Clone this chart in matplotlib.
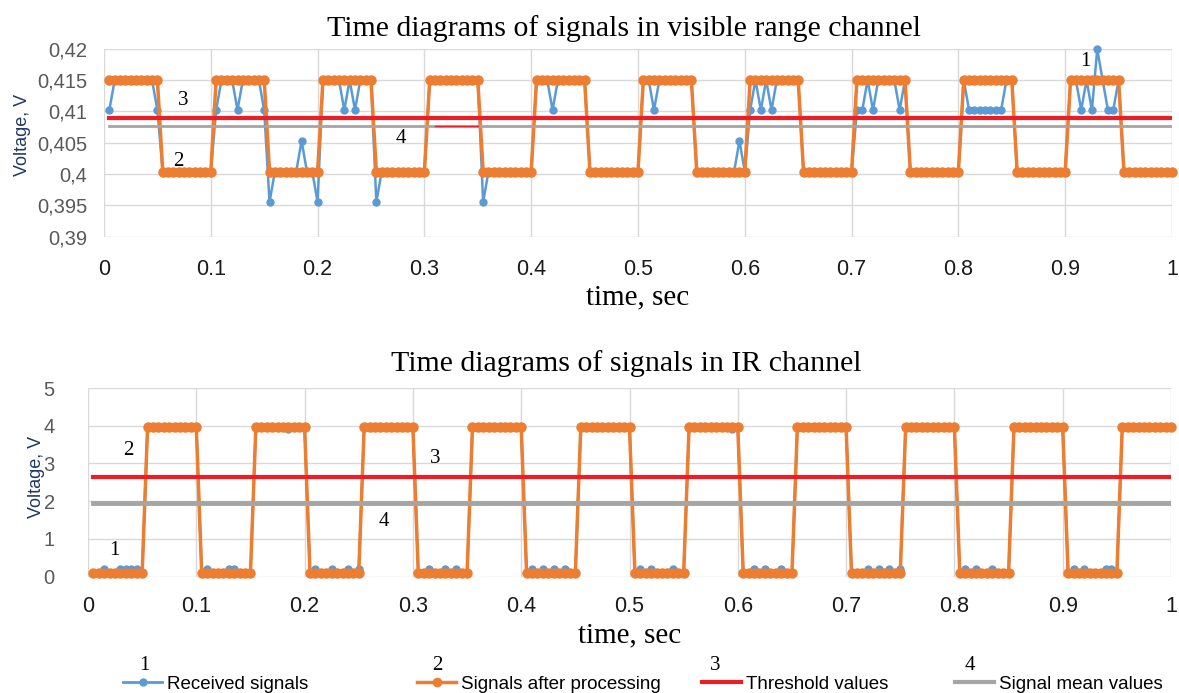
import numpy as np
import matplotlib
matplotlib.use("Agg")
import matplotlib.pyplot as plt
from matplotlib.lines import Line2D

# ---------------- data ----------------
sample_step = 0.005          # s, one dot every 5 ms
samples_per_segment = 10     # 10 dots per half-period plateau

# visible range channel: processed level of each 50 ms plateau
vis_segment_levels = [0.4150, 0.4004] * 10
# received signal = processed signal except at these samples
vis_received_deviations = {
    0.005: 0.4102, 0.050: 0.4102,
    0.105: 0.4102, 0.125: 0.4102, 0.150: 0.4102,
    0.155: 0.3955, 0.185: 0.4053, 0.200: 0.3955,
    0.225: 0.4102, 0.235: 0.4102,
    0.255: 0.3955,
    0.355: 0.3955,
    0.420: 0.4102,
    0.515: 0.4102,
    0.595: 0.4053,
    0.605: 0.4102, 0.615: 0.4102, 0.625: 0.4102,
    0.705: 0.4102, 0.710: 0.4102, 0.720: 0.4102, 0.745: 0.4102,
    0.810: 0.4102, 0.815: 0.4102, 0.820: 0.4102, 0.825: 0.4102,
    0.830: 0.4102, 0.835: 0.4102, 0.840: 0.4102,
    0.915: 0.4102, 0.925: 0.4102, 0.930: 0.4199, 0.940: 0.4102, 0.945: 0.4102,
}
vis_threshold = 0.4089
vis_mean = 0.4077
vis_artifact_t = [0.31, 0.35]   # short red stroke on the mean line

# IR channel
ir_segment_levels = [0.08, 3.96] * 10
ir_received_deviations = {
    0.015: 0.20, 0.030: 0.20, 0.035: 0.20, 0.040: 0.20, 0.045: 0.20,
    0.110: 0.20, 0.130: 0.20, 0.135: 0.20,
    0.185: 3.90,
    0.210: 0.20, 0.225: 0.20, 0.240: 0.20, 0.250: 0.20,
    0.315: 0.20, 0.330: 0.20, 0.340: 0.20,
    0.410: 0.20, 0.420: 0.20, 0.430: 0.20, 0.440: 0.20,
    0.510: 0.20, 0.520: 0.20, 0.540: 0.20,
    0.595: 3.90,
    0.615: 0.20, 0.625: 0.20, 0.640: 0.20,
    0.720: 0.20, 0.730: 0.20, 0.740: 0.20, 0.750: 0.20,
    0.810: 0.20, 0.820: 0.20, 0.835: 0.20,
    0.910: 0.20, 0.920: 0.20, 0.940: 0.20, 0.945: 0.20,
}
ir_threshold = 2.63
ir_mean = 1.94

x_ticks = [0, 0.1, 0.2, 0.3, 0.4, 0.5, 0.6, 0.7, 0.8, 0.9, 1]
x_tick_labels = ["0", "0.1", "0.2", "0.3", "0.4", "0.5", "0.6", "0.7", "0.8", "0.9", "1"]
vis_y_ticks = [0.39, 0.395, 0.40, 0.405, 0.41, 0.415, 0.42]
vis_y_labels = ["0,39", "0,395", "0,4", "0,405", "0,41", "0,415", "0,42"]
ir_y_ticks = [0, 1, 2, 3, 4, 5]
ir_y_labels = ["0", "1", "2", "3", "4", "5"]

legend_labels = ["Received signals", "Signals after processing",
                 "Threshold values", "Signal mean values"]

# ---------------- build series ----------------
n = samples_per_segment * len(vis_segment_levels)
t = np.round(np.arange(1, n + 1) * sample_step, 3)

def build(levels, deviations):
    processed = np.repeat(np.array(levels, dtype=float), samples_per_segment)
    received = processed.copy()
    for tt, v in deviations.items():
        idx = int(np.argmin(np.abs(t - tt)))
        received[idx] = v
    return received, processed

vis_rec, vis_proc = build(vis_segment_levels, vis_received_deviations)
ir_rec, ir_proc = build(ir_segment_levels, ir_received_deviations)

# ---------------- style ----------------
BLUE = "#5B9BD5"
ORANGE = "#ED7D31"
RED = "#EE1C25"
GRAY = "#A5A5A5"
GRID = "#D9D9D9"
TICKCOL = "#595959"
SERIF = "Liberation Serif"
SANS = "Liberation Sans"

W, H = 1179, 693
fig = plt.figure(figsize=(W / 100, H / 100), dpi=100)

def px_axes(x0, x1, ytop, ybot):
    return fig.add_axes([x0 / W, 1 - ybot / H, (x1 - x0) / W, (ybot - ytop) / H])

def style(ax, yticks, ylabels, ylim, xpad, ypad, xlabelpad):
    ax.set_xlim(0, 1)
    ax.set_ylim(*ylim)
    ax.set_xticks(x_ticks)
    ax.set_xticklabels(x_tick_labels, fontfamily=SANS, fontsize=15.5, color="#1a1a1a")
    ax.set_yticks(yticks)
    ax.set_yticklabels(ylabels, fontfamily=SANS, fontsize=14.5, color=TICKCOL)
    ax.tick_params(axis="x", length=0, pad=xpad)
    ax.tick_params(axis="y", length=0, pad=ypad)
    ax.grid(True, color=GRID, lw=1)
    ax.set_axisbelow(True)
    for s in ax.spines.values():
        s.set_visible(False)
    ax.set_ylabel("Voltage, V", fontfamily=SANS, fontsize=13, color="#203864")
    ax.set_xlabel("time, sec", fontfamily=SERIF, fontsize=21, color="black",
                  labelpad=xlabelpad)

# ---- top: visible range channel ----
ax1 = px_axes(104, 1172, 48.7, 236.7)
ax1.plot(t, vis_rec, color=BLUE, lw=1.8, marker="o", ms=5, zorder=3, clip_on=False)
ax1.plot(t, vis_proc, color=ORANGE, lw=2.5, marker="o", ms=6.5, zorder=4, clip_on=False)
ax1.plot(t, np.full_like(t, vis_threshold), color=RED, lw=3, zorder=5)
ax1.plot(t, np.full_like(t, vis_mean), color=GRAY, lw=2, zorder=5)
ax1.plot(vis_artifact_t, [vis_mean, vis_mean], color=RED, lw=1, zorder=6)
style(ax1, vis_y_ticks, vis_y_labels, (0.39, 0.42), xpad=16, ypad=12, xlabelpad=3)
ax1.yaxis.set_label_coords(-0.068, 0.543)
ax1.set_title("Time diagrams of signals in visible range channel",
              fontfamily=SERIF, fontsize=21.5, pad=9, x=0.487)
for txt, (xx, yy) in zip(["3", "2", "4", "1"],
                         [(0.074, 0.4118), (0.070, 0.4020), (0.278, 0.4057), (0.919, 0.4180)]):
    ax1.text(xx, yy, txt, fontfamily=SERIF, fontsize=15, ha="center", va="center")

# ---- bottom: IR channel ----
ax2 = px_axes(88, 1171, 388, 576.5)
ax2.plot(t, ir_rec, color=BLUE, lw=1.8, marker="o", ms=5, zorder=3, clip_on=False)
ax2.plot(t, ir_proc, color=ORANGE, lw=2.5, marker="o", ms=6.5, zorder=4, clip_on=False)
ax2.plot(t, np.full_like(t, ir_threshold), color=RED, lw=3, zorder=5)
ax2.plot(t, np.full_like(t, ir_mean), color=GRAY, lw=3.5, zorder=5)
style(ax2, ir_y_ticks, ir_y_labels, (0, 5), xpad=14, ypad=24, xlabelpad=4)
ax2.yaxis.set_label_coords(-0.040, 0.53)
ax2.set_title("Time diagrams of signals in IR channel",
              fontfamily=SERIF, fontsize=21.5, pad=12, x=0.497)
for txt, (xx, yy) in zip(["2", "3", "4", "1"],
                         [(0.037, 3.35), (0.321, 3.13), (0.273, 1.47), (0.024, 0.70)]):
    ax2.text(xx, yy, txt, fontfamily=SERIF, fontsize=15, ha="center", va="center")

# ---- legend ----
handles = [
    Line2D([], [], color=BLUE, lw=2, marker="o", ms=5),
    Line2D([], [], color=ORANGE, lw=2.5, marker="o", ms=6),
    Line2D([], [], color=RED, lw=3),
    Line2D([], [], color=GRAY, lw=3),
]
legend_x_px = [123, 417, 702, 955]
number_x_px = [144, 437, 715, 970]
for h, lab, xp, nx, num in zip(handles, legend_labels, legend_x_px, number_x_px,
                               ["1", "2", "3", "4"]):
    fig.legend(handles=[h], labels=[lab], loc="center left",
               bbox_to_anchor=(xp / W, 1 - 684 / H), frameon=False,
               handlelength=2.1, handletextpad=0.25, borderpad=0, borderaxespad=0,
               prop={"family": SANS, "size": 13.5})
    fig.text(nx / W, 1 - 666 / H, num, fontfamily=SERIF, fontsize=15,
             ha="center", va="center")

fig.savefig("out.png", dpi=100)
